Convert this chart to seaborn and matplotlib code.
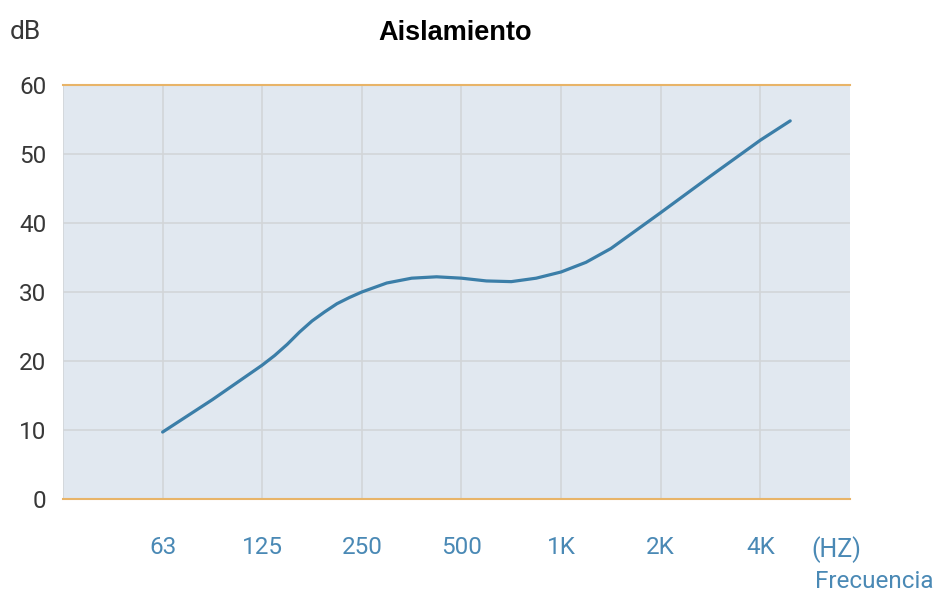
import matplotlib
matplotlib.use("Agg")
import matplotlib.pyplot as plt
import seaborn as sns
import pandas as pd

# frequency bands (categorical positions 0..6)
freq_labels = ["63", "125", "250", "500", "1K", "2K", "4K"]

# curve: position on the band axis -> dB
curve_pos = [0, 0.5, 1.0, 1.125, 1.25, 1.375, 1.5, 1.625, 1.75, 1.875, 2.0, 2.25, 2.5,
             2.75, 3.0, 3.25, 3.5, 3.75, 4.0, 4.25, 4.5, 4.75, 5.0, 5.5, 6.0, 6.3]
curve_db = [9.7, 14.4, 19.4, 20.8, 22.4, 24.2, 25.8, 27.1, 28.3, 29.2, 30.0, 31.3, 32.0,
            32.2, 32.0, 31.6, 31.5, 32.0, 32.9, 34.3, 36.3, 38.9, 41.5, 46.8, 52.0, 54.8]

df = pd.DataFrame({"pos": curve_pos, "db": curve_db})

sns.set_style("white")
plt.rcParams["font.family"] = ["Roboto", "DejaVu Sans"]

fig = plt.figure(figsize=(9.39, 5.96), dpi=100)
ax = fig.add_axes([0.0671, 0.1628, 0.8381, 0.6946])
ax.set_facecolor("#e1e8f0")

sns.lineplot(data=df, x="pos", y="db", ax=ax, color="#3b7ea8", linewidth=2.3)
ax.lines[0].set_solid_joinstyle("round")
ax.lines[0].set_solid_capstyle("round")

ax.set_xlim(-1, 6.9)
ax.set_ylim(0, 60)

ax.set_xticks(range(-1, 7))
ax.set_xticklabels([""] + freq_labels)
ax.set_yticks(range(0, 61, 10))

ax.grid(True, color="#d2d5d8", linewidth=1.2)
ax.set_axisbelow(True)

for s in ["left", "right"]:
    ax.spines[s].set_visible(False)
for s in ["top", "bottom"]:
    ax.spines[s].set_color("#e8b468")
    ax.spines[s].set_linewidth(1.5)

ax.tick_params(axis="x", length=19, width=1.2, color="#d2d5d8", pad=8,
               labelsize=17.5, labelcolor="#4a89b5")
ax.tick_params(axis="y", length=0, pad=12, labelsize=17.5, labelcolor="#383838")
ax.set_xlabel("")
ax.set_ylabel("")

fig.text(0.010, 0.947, "dB", fontsize=19, color="#383838", va="center", ha="left")
fig.text(0.485, 0.944, "Aislamiento", fontsize=19.5, fontweight="bold",
         family="Liberation Sans", color="black", ha="center", va="center")
fig.text(0.864, 0.078, "(HZ)", fontsize=18, color="#4a89b5", ha="left", va="center")
fig.text(0.994, 0.024, "Frecuencia", fontsize=17.5, color="#4a89b5", ha="right", va="center")

fig.savefig("out.png", dpi=100)
